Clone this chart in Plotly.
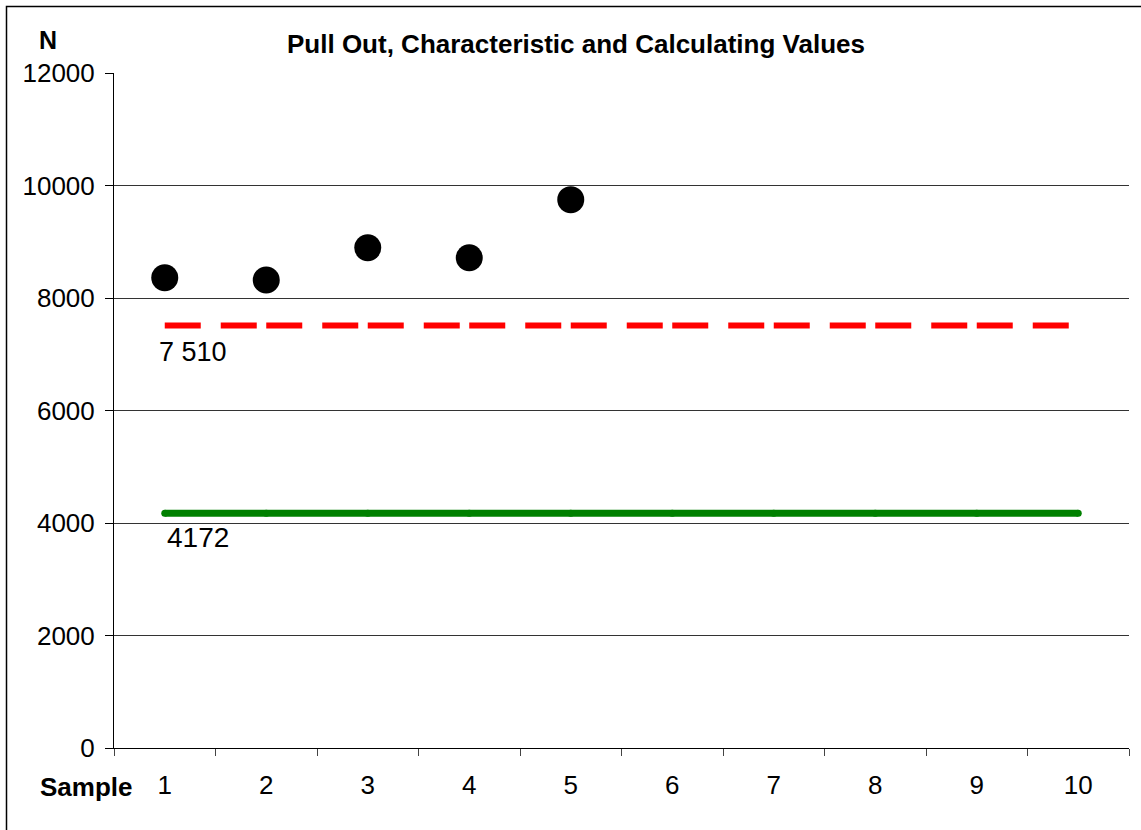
import plotly.graph_objects as go

samples = ["1", "2", "3", "4", "5", "6", "7", "8", "9", "10"]
pull_out = [8361, 8320, 8894, 8716, 9748]
characteristic = 7510
calculating = 4172
char_label = "7 510"
calc_label = "4172"
y_ticks = [0, 2000, 4000, 6000, 8000, 10000, 12000]

FONT = "Liberation Sans, Arial, sans-serif"

fig = go.Figure()

fig.add_trace(go.Scatter(
    x=samples, y=[calculating] * len(samples), mode="lines+markers",
    line=dict(color="#008000", width=7),
    marker=dict(color="#008000", size=7, line=dict(width=0)),
    hoverinfo="skip", showlegend=False))

fig.add_trace(go.Scatter(
    x=samples, y=[characteristic] * len(samples), mode="lines",
    line=dict(color="#ff0000", width=6, dash="36px,20px,36px,9.5px"),
    hoverinfo="skip", showlegend=False))

fig.add_trace(go.Scatter(
    x=samples[:len(pull_out)], y=pull_out, mode="markers",
    marker=dict(color="black", size=27, line=dict(width=0)),
    showlegend=False))

# annotation x given as category index (0 -> first sample)
first_idx = samples.index(samples[0])
fig.add_annotation(x=first_idx, y=characteristic, text=char_label, showarrow=False,
                   xanchor="left", yanchor="middle", xshift=-8, yshift=-26,
                   font=dict(family=FONT, size=27, color="black"))
fig.add_annotation(x=first_idx, y=calculating, text=calc_label, showarrow=False,
                   xanchor="left", yanchor="middle", xshift=0, yshift=-24,
                   font=dict(family=FONT, size=28, color="black"))

fig.add_annotation(xref="paper", yref="paper", x=(576 - 114) / 1015, y=(748 - 44) / 675,
                   text="<b>Pull Out, Characteristic and Calculating Values</b>",
                   showarrow=False, xanchor="center", yanchor="middle",
                   font=dict(family=FONT, size=26, color="black"))
fig.add_annotation(xref="paper", yref="paper", x=(48 - 114) / 1015, y=(748 - 40) / 675,
                   text="<b>N</b>", showarrow=False, xanchor="center", yanchor="middle",
                   font=dict(family=FONT, size=25, color="black"))
fig.add_annotation(xref="paper", yref="paper", x=(86 - 114) / 1015, y=(748 - 787) / 675,
                   text="<b>Sample</b>", showarrow=False, xanchor="center", yanchor="middle",
                   font=dict(family=FONT, size=26, color="black"))

fig.add_shape(type="rect", xref="paper", yref="paper",
              x0=(6.5 - 114) / 1015, x1=(1150 - 114) / 1015,
              y0=(748 - 840) / 675, y1=(748 - 6.5) / 675,
              line=dict(color="black", width=1.5), fillcolor="rgba(0,0,0,0)", layer="above")

fig.update_layout(
    width=1141, height=830,
    margin=dict(l=114, r=12, t=73, b=82),
    paper_bgcolor="white", plot_bgcolor="white",
    font=dict(family=FONT, size=26, color="black"),
    showlegend=False,
)
fig.update_xaxes(
    type="category", categoryorder="array", categoryarray=samples,
    range=[-0.5, 9.5], tickson="boundaries", ticks="outside", ticklen=7,
    tickcolor="#444", showline=True, linecolor="black", linewidth=1,
    showgrid=False, zeroline=False, ticklabelstandoff=14,
    tickfont=dict(family=FONT, size=26, color="black"),
)
fig.update_yaxes(
    range=[0, 12000], tickvals=y_ticks, tickformat="d", ticks="outside", ticklen=8,
    tickcolor="black", showline=True, linecolor="black", linewidth=1,
    showgrid=True, gridcolor="#333", gridwidth=1, zeroline=False,
    ticklabelstandoff=5,
    tickfont=dict(family=FONT, size=26, color="black"),
)

fig.write_html("out.html", config={"displayModeBar": False},
               post_script="document.body.style.margin='0px';document.body.style.overflow='hidden';")
